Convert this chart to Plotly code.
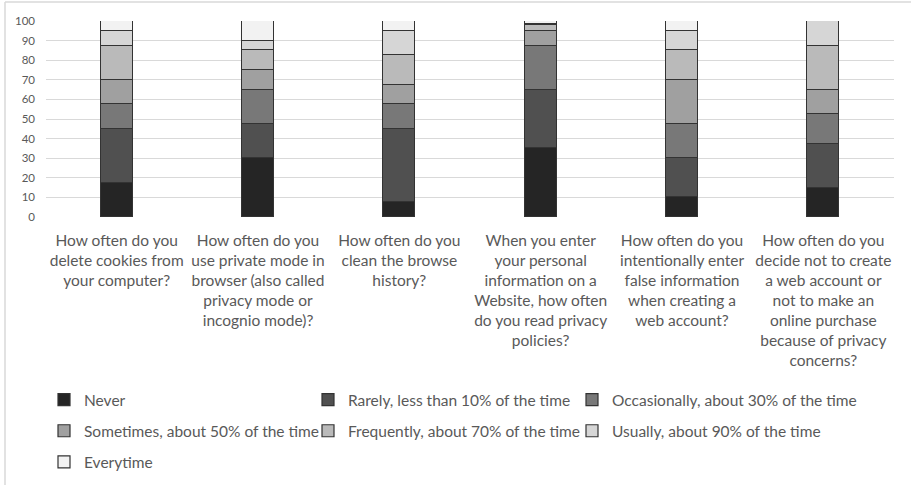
import plotly.graph_objects as go

categories = [
    "How often do you<br>delete cookies from<br>your computer?",
    "How often do you<br>use private mode in<br>browser (also called<br>privacy mode or<br>incognio mode)?",
    "How often do you<br>clean the browse<br>history?",
    "When you enter<br>your personal<br>information on a<br>Website, how often<br>do you read privacy<br>policies?",
    "How often do you<br>intentionally enter<br>false information<br>when creating a<br>web account?",
    "How often do you<br>decide not to create<br>a web account or<br>not to make an<br>online purchase<br>because of privacy<br>concerns?",
]

never = [17.5, 30, 7.5, 35, 10, 15]
rarely = [27.5, 17.5, 37.5, 30, 20, 22.5]
occasionally = [12.5, 17.5, 12.5, 22.5, 17.5, 15]
sometimes = [12.5, 10, 10, 7.5, 22.5, 12.5]
frequently = [17.5, 10, 15, 3, 15, 22.5]
usually = [7.5, 5, 12.5, 0.5, 10, 12.5]
everytime = [5, 10, 5, 1.5, 5, 0]

series_names = [
    "Never",
    "Rarely, less than 10% of the time",
    "Occasionally, about 30% of the time",
    "Sometimes, about 50% of the time",
    "Frequently, about 70% of the time",
    "Usually, about 90% of the time",
    "Everytime",
]
series_values = [never, rarely, occasionally, sometimes, frequently, usually, everytime]
series_colors = ["#252525", "#505050", "#787878", "#a0a0a0", "#bababa", "#d6d6d6", "#f2f2f2"]
# legend laid out as 3 columns (one plotly legend per column)
legend_cols = ["legend", "legend2", "legend3", "legend", "legend2", "legend3", "legend"]

FONT = "Lato"
TXT = "#595959"

fig = go.Figure()
for i, (name, vals, col, lg) in enumerate(zip(series_names, series_values, series_colors, legend_cols)):
    fig.add_trace(go.Bar(
        x=categories, y=vals, name=name,
        marker=dict(color=col, line=dict(color="#333333", width=1.2)),
        width=0.225, legend=lg, legendgroup=f"g{i}",
    ))

# plot area in px: x 46..894, y 21..217
W, H = 911, 485
L, R, T, B = 46, 17, 21, 268
pw = W - L - R
ph = H - T - B

def px_x(p):
    return (p - L) / pw

def px_y(p):
    return (H - B - p) / ph

leg_common = dict(
    orientation="v", xanchor="left", yanchor="top",
    font=dict(family=FONT, size=15.5, color=TXT),
    bgcolor="rgba(0,0,0,0)", itemclick=False, traceorder="grouped",
    tracegroupgap=8,
)

fig.update_layout(
    width=W, height=H,
    margin=dict(l=L, r=R, t=T, b=B, pad=0, autoexpand=False),
    paper_bgcolor="white", plot_bgcolor="white",
    barmode="stack",
    bargap=0,
    font=dict(family=FONT, color=TXT),
    showlegend=True,
    legend=dict(x=px_x(44), y=px_y(383), **leg_common),
    legend2=dict(x=px_x(308), y=px_y(383), **leg_common),
    legend3=dict(x=px_x(572), y=px_y(383), **leg_common),
    xaxis=dict(
        showgrid=False, showline=False, zeroline=False,
        tickfont=dict(family=FONT, size=15.5, color=TXT),
        ticks="", tickangle=0, ticklabelstandoff=12,
    ),
    yaxis=dict(
        range=[0, 100], dtick=10, tick0=0,
        showgrid=True, gridcolor="#d9d9d9", gridwidth=1,
        zeroline=False, showline=False,
        tickfont=dict(family=FONT, size=11.5, color=TXT),
        ticks="", ticklabelstandoff=10,
    ),
    shapes=[
        dict(type="line", xref="paper", yref="paper",
             x0=px_x(5), x1=px_x(915), y0=px_y(2), y1=px_y(2),
             line=dict(color="#d9d9d9", width=1.5)),
        dict(type="line", xref="paper", yref="paper",
             x0=px_x(5), x1=px_x(5), y0=px_y(2), y1=px_y(490),
             line=dict(color="#d9d9d9", width=1.5)),
    ],
)

fig.write_html("out.html")
